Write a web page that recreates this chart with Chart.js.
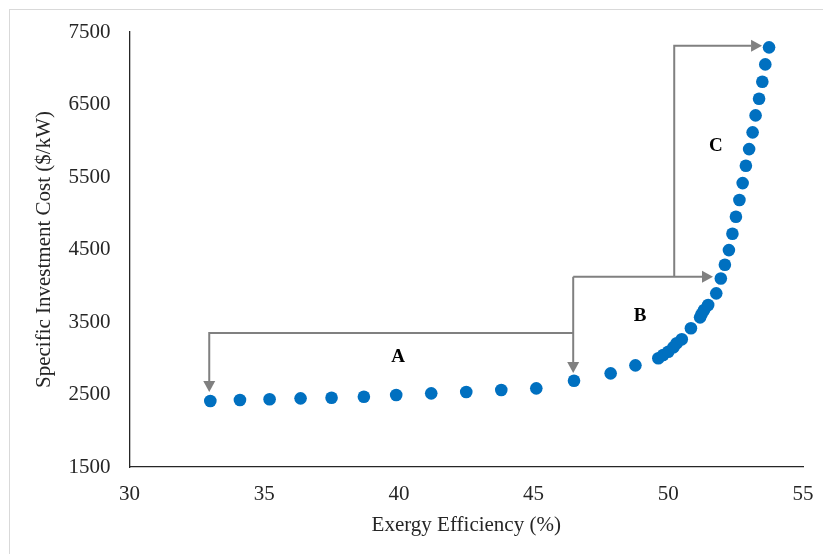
<!DOCTYPE html>
<html>
<head>
<meta charset="utf-8">
<script src="https://cdn.jsdelivr.net/npm/chart.js@4.4.0/dist/chart.umd.min.js"></script>
<style>
  html, body { margin: 0; padding: 0; background: #fff; }
  #wrap { position: absolute; left: 0; top: 0; width: 823px; height: 554px; }
</style>
</head>
<body>
<div id="wrap"><canvas id="c" width="823" height="554"></canvas></div>
<script>
// ---- Data ----
const exergyEfficiency = [
  33.0, 34.1, 35.2, 36.35, 37.5, 38.7, 39.9, 41.2, 42.5, 43.8, 45.1, 46.5,
  47.86, 48.78, 49.63, 49.81, 50.0, 50.19, 50.31, 50.5, 50.84,
  51.18, 51.24, 51.33, 51.48, 51.78, 51.95,
  52.1, 52.25, 52.38, 52.51, 52.64, 52.76, 52.88, 53.0, 53.13, 53.24, 53.37, 53.49, 53.6, 53.74
];
const investmentCost = [
  2410, 2424, 2434, 2447, 2456, 2469, 2493, 2516, 2534, 2562, 2585, 2690,
  2792, 2902, 2999, 3044, 3090, 3151, 3206, 3261, 3413,
  3564, 3610, 3665, 3734, 3895, 4099,
  4290, 4492, 4717, 4952, 5182, 5416, 5655, 5885, 6116, 6350, 6579, 6813, 7053, 7288
];
const xTicks = [30, 35, 40, 45, 50, 55];
const yTicks = [1500, 2500, 3500, 4500, 5500, 6500, 7500];
const xTitle = 'Exergy Efficiency (%)';
const yTitle = 'Specific Investment Cost ($/kW)';

// Annotation arrows (in data coordinates) and region labels
const arrowPaths = [
  [[46.47, 4124], [46.47, 2796]],
  [[46.47, 3348], [32.96, 3348], [32.96, 2534]],
  [[46.47, 4124], [51.66, 4124]],
  [[50.22, 4124], [50.22, 7310], [53.48, 7310]]
];
const regionLabels = ['A', 'B', 'C'];
const regionLabelX = [39.97, 48.95, 51.77];
const regionLabelY = [3017, 3582, 5927];

const points = exergyEfficiency.map((x, i) => ({ x: x, y: investmentCost[i] }));

const FONT = "'Liberation Serif', 'Times New Roman', serif";

const decorPlugin = {
  id: 'decor',
  beforeDraw(chart) {
    const ctx = chart.ctx;
    ctx.save();
    ctx.fillStyle = '#ffffff';
    ctx.fillRect(0, 0, chart.width, chart.height);
    ctx.strokeStyle = '#d9d9d9';
    ctx.lineWidth = 1;
    ctx.strokeRect(9.5, 9.5, 1000, 1000);
    ctx.restore();
  },
  afterDatasetsDraw(chart) {
    const ctx = chart.ctx;
    const xs = chart.scales.x, ys = chart.scales.y;
    ctx.save();
    ctx.strokeStyle = '#808080';
    ctx.fillStyle = '#808080';
    ctx.lineWidth = 2;
    arrowPaths.forEach(path => {
      const pts = path.map(p => [xs.getPixelForValue(p[0]), ys.getPixelForValue(p[1])]);
      const n = pts.length;
      const [tx, ty] = pts[n - 1];
      const [px, py] = pts[n - 2];
      const ang = Math.atan2(ty - py, tx - px);
      const headLen = 11, headW = 6;
      const bx = tx - headLen * Math.cos(ang), by = ty - headLen * Math.sin(ang);
      ctx.beginPath();
      ctx.moveTo(pts[0][0], pts[0][1]);
      for (let i = 1; i < n - 1; i++) ctx.lineTo(pts[i][0], pts[i][1]);
      ctx.lineTo(bx, by);
      ctx.stroke();
      ctx.beginPath();
      ctx.moveTo(tx, ty);
      ctx.lineTo(bx + headW * Math.sin(ang), by - headW * Math.cos(ang));
      ctx.lineTo(bx - headW * Math.sin(ang), by + headW * Math.cos(ang));
      ctx.closePath();
      ctx.fill();
    });
    ctx.fillStyle = '#000000';
    ctx.font = "bold 19px " + FONT;
    ctx.textAlign = 'center';
    ctx.textBaseline = 'middle';
    regionLabels.forEach((t, i) => {
      ctx.fillText(t, xs.getPixelForValue(regionLabelX[i]), ys.getPixelForValue(regionLabelY[i]));
    });
    ctx.restore();
  }
};

new Chart(document.getElementById('c'), {
  type: 'scatter',
  data: {
    datasets: [{
      data: points,
      pointRadius: 6.3,
      pointHoverRadius: 6.3,
      pointBackgroundColor: '#0070C0',
      pointBorderWidth: 0,
      borderWidth: 0
    }]
  },
  options: {
    responsive: false,
    animation: false,
    devicePixelRatio: 1,
    layout: { padding: { left: 0, top: 32, right: 20, bottom: 0 } },
    plugins: { legend: { display: false }, tooltip: { enabled: false } },
    scales: {
      x: {
        type: 'linear',
        min: 30, max: 55,
        afterBuildTicks: s => { s.ticks = xTicks.map(v => ({ value: v })); },
        afterFit: s => { s.height = 87; s.paddingLeft = 0; s.paddingRight = 0; },
        grid: { display: false, drawTicks: false },
        border: { display: true, color: '#262626', width: 1.3 },
        ticks: { color: '#262626', font: { family: FONT, size: 21 }, padding: 15, maxRotation: 0, callback: v => String(v) },
        title: { display: true, text: xTitle, color: '#262626', font: { family: FONT, size: 21 }, padding: { top: 0, bottom: 16 } }
      },
      y: {
        type: 'linear',
        min: 1500, max: 7500,
        afterBuildTicks: s => { s.ticks = yTicks.map(v => ({ value: v })); },
        afterFit: s => { s.width = 129.5; s.paddingTop = 0; s.paddingBottom = 0; },
        grid: { display: false, drawTicks: false },
        border: { display: true, color: '#262626', width: 1.3 },
        ticks: { color: '#262626', font: { family: FONT, size: 21 }, padding: 19, callback: v => String(v) },
        title: { display: true, text: yTitle, color: '#262626', font: { family: FONT, size: 21 }, padding: { top: 32, bottom: 0 } }
      }
    }
  },
  plugins: [decorPlugin]
});
</script>
</body>
</html>
